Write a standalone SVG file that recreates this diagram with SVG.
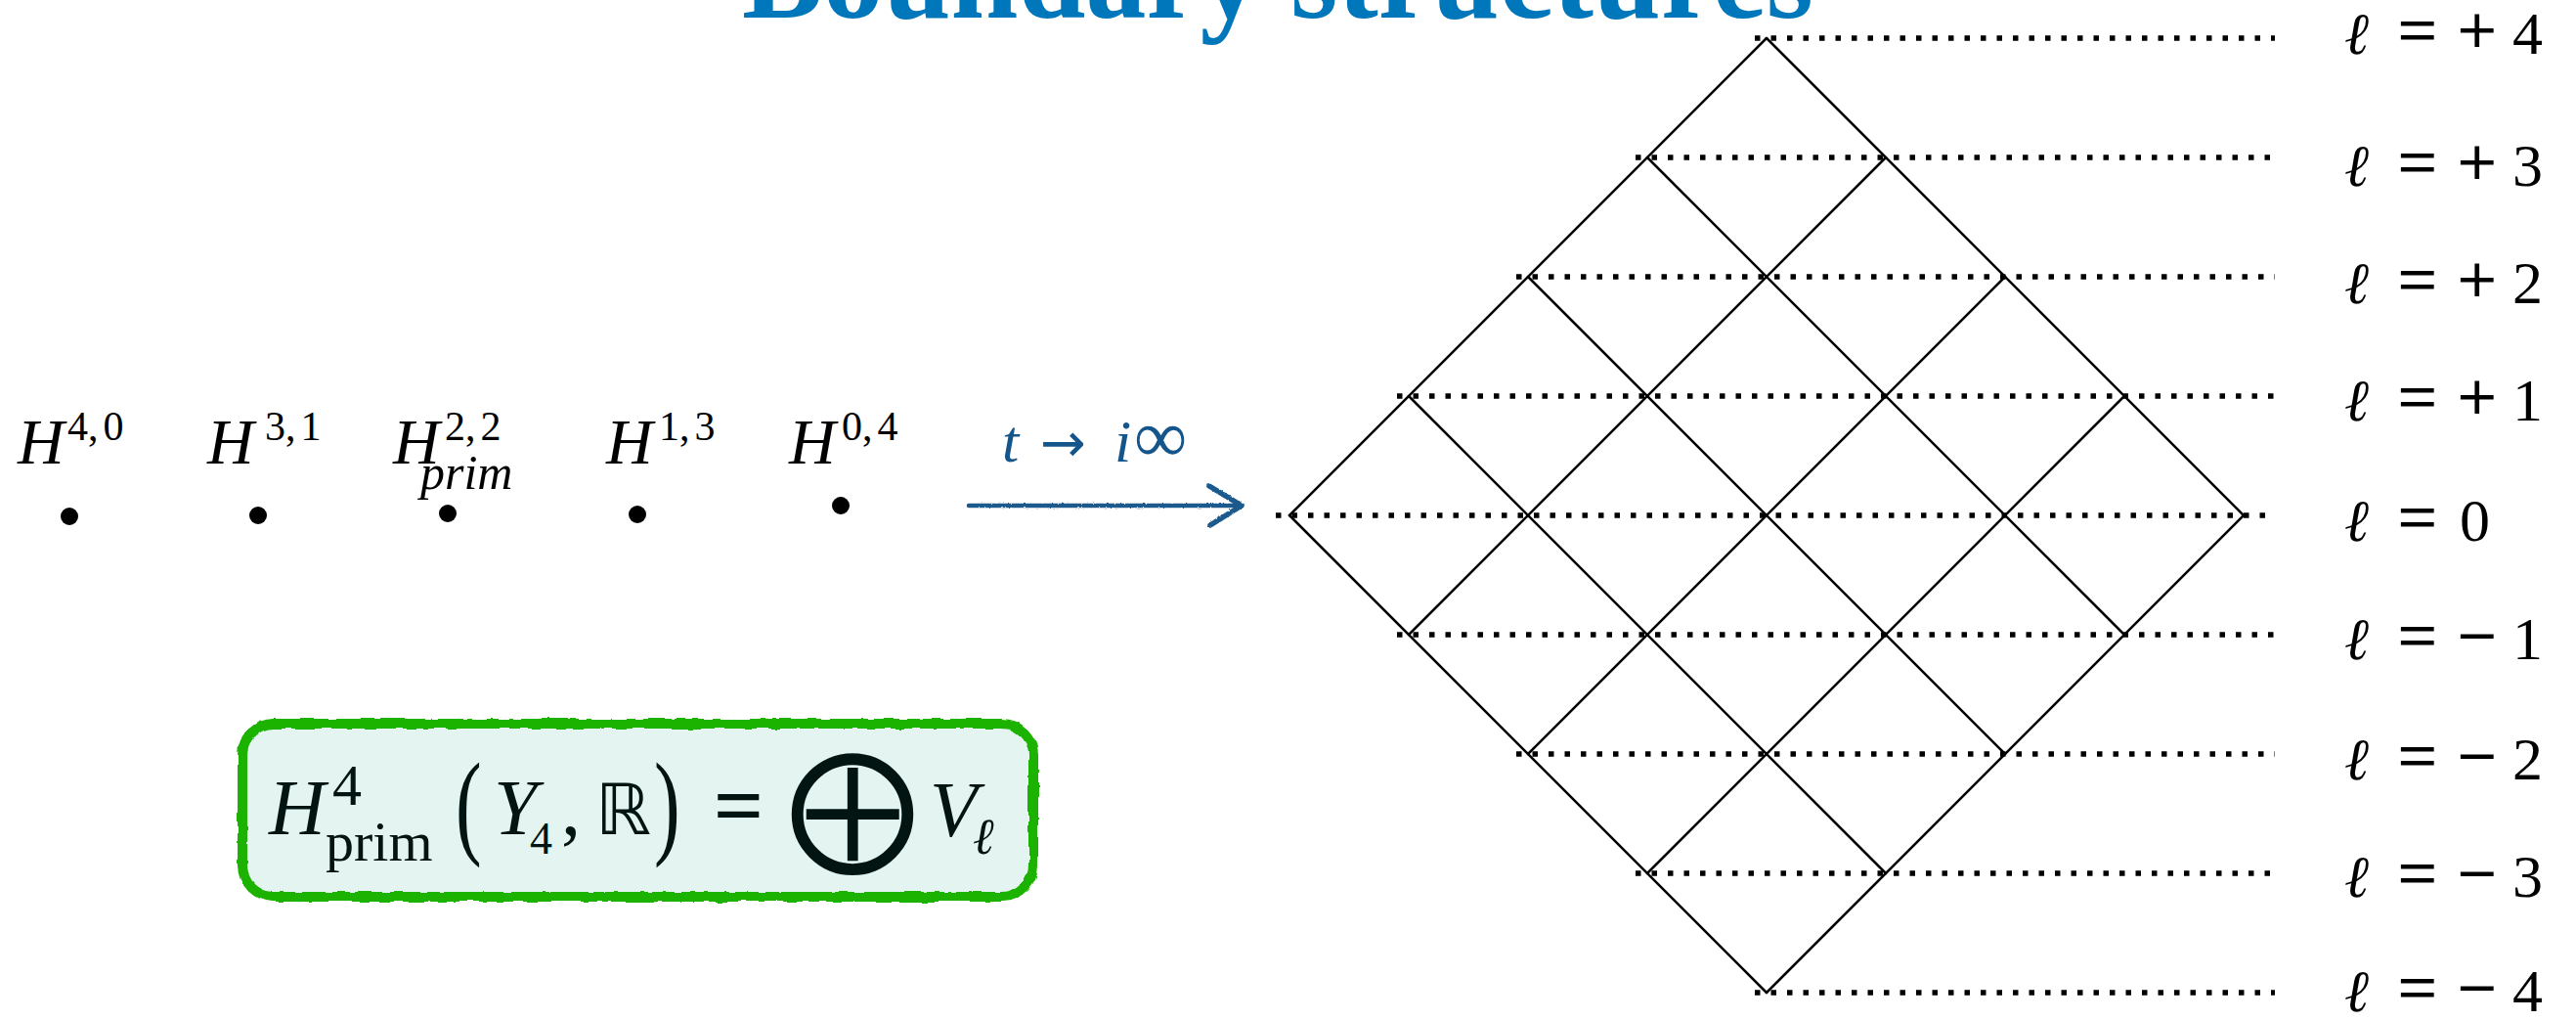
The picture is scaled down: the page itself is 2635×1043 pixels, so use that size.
<svg xmlns="http://www.w3.org/2000/svg" width="2635" height="1043" viewBox="0 0 2635 1043">
<style>
.serif{font-family:"Liberation Serif","Times New Roman",serif;}
.it{font-style:italic;}
.hl{font-size:66px;fill:#000;}
.sup{font-size:42px;fill:#000;font-style:normal;}
.lab{font-family:"Liberation Serif","DejaVu Serif",serif;font-size:62px;fill:#000;}
.ell{font-family:"DejaVu Serif",serif;font-style:italic;font-size:60px;}
.op{font-size:70px;stroke:#000;stroke-width:1.2;}
.grid{stroke:#000;stroke-width:2.5;fill:none;stroke-linecap:round;}
.dots{stroke:#000;stroke-width:5.5;stroke-dasharray:5.5 11;fill:none;}
.fm{fill:#031512;}
</style>
<defs>
<filter id="rough" x="-5%" y="-20%" width="110%" height="140%">
<feTurbulence type="fractalNoise" baseFrequency="0.07" numOctaves="2" seed="4" result="n"/>
<feDisplacementMap in="SourceGraphic" in2="n" scale="5" xChannelSelector="R" yChannelSelector="G"/>
</filter>
<filter id="rough2" x="-5%" y="-50%" width="110%" height="200%">
<feTurbulence type="fractalNoise" baseFrequency="0.5" numOctaves="1" seed="2" result="n"/>
<feDisplacementMap in="SourceGraphic" in2="n" scale="2.5" xChannelSelector="R" yChannelSelector="G"/>
</filter>
</defs>
<rect width="2635" height="1043" fill="#fff"/>

<g id="title">
<text class="serif" x="759" y="18" font-size="130" font-weight="bold" fill="#0077bb" textLength="1096" lengthAdjust="spacingAndGlyphs">Boundary structures</text>
</g>

<g id="h40">
<text class="serif it hl" x="18" y="474">H</text>
<text class="serif sup" x="69" y="450">4,<tspan dx="5">0</tspan></text>
<circle cx="71" cy="528" r="9" fill="#000"/>
</g>
<g id="h31">
<text class="serif it hl" x="212" y="474">H</text>
<text class="serif sup" x="271" y="450">3,<tspan dx="5">1</tspan></text>
<circle cx="264" cy="527" r="9" fill="#000"/>
</g>
<g id="h22">
<text class="serif it hl" x="402" y="474">H</text>
<text class="serif sup" x="455" y="450">2,<tspan dx="5">2</tspan></text>
<text class="serif it" x="430" y="500" font-size="50">prim</text>
<circle cx="458" cy="525" r="9" fill="#000"/>
</g>
<g id="h13">
<text class="serif it hl" x="620" y="474">H</text>
<text class="serif sup" x="674" y="450">1,<tspan dx="5">3</tspan></text>
<circle cx="652" cy="526" r="9" fill="#000"/>
</g>
<g id="h04">
<text class="serif it hl" x="807" y="474">H</text>
<text class="serif sup" x="861" y="450">0,<tspan dx="5">4</tspan></text>
<circle cx="860" cy="517" r="9" fill="#000"/>
</g>

<g id="connectors">
<g id="arrow" filter="url(#rough2)" stroke="#1b5a8e" fill="none" stroke-linecap="round" stroke-linejoin="round">
<path d="M991,517 L1266,517" stroke-width="4.5"/>
<path d="M1237,497 L1270,517 L1238,537" stroke-width="5.5"/>
</g>
<text class="serif" y="472" font-size="62" fill="#14558c"><tspan x="1025" font-style="italic">t</tspan><tspan x="1064" font-family="DejaVu Sans, sans-serif" font-size="56">→</tspan><tspan x="1140" font-style="italic">i</tspan><tspan x="1160" font-size="76">∞</tspan></text>
</g>

<g id="formula">
<rect x="248" y="740" width="809" height="177" rx="32" ry="32" fill="#e4f5f1" stroke="#1fb200" stroke-width="10" filter="url(#rough)"/>
<text class="serif it fm" x="275" y="853" font-size="80">H</text>
<text class="serif fm" x="340" y="823" font-size="60">4</text>
<text class="serif fm" x="333" y="880" font-size="58">prim</text>
<text class="serif fm" font-size="80" transform="translate(466,862) scale(1,1.48)">(</text>
<text class="serif it fm" x="505" y="853" font-size="80">Y</text>
<text class="serif fm" x="542" y="873" font-size="46">4</text>
<text class="serif fm" x="574" y="853" font-size="80">,</text>
<text class="fm" x="609" y="853" font-size="72" font-family="DejaVu Sans, sans-serif">ℝ</text>
<text class="serif fm" font-size="80" transform="translate(669,862) scale(1,1.48)">)</text>
<text class="serif fm" x="731" y="853" font-size="86" stroke="#031512" stroke-width="2">=</text>
<text class="fm" x="872" y="869" font-size="132" text-anchor="middle" font-family="DejaVu Sans, sans-serif">⨁</text>
<text class="serif it fm" x="951" y="855" font-size="80">V</text>
<text class="fm" x="995" y="873" font-size="52" font-family="DejaVu Serif, serif" font-style="italic">ℓ</text>
</g>

<g id="diamond">
<g class="grid">
<line x1="1807" y1="39" x2="2295" y2="527"/>
<line x1="1685" y1="161" x2="2173" y2="649"/>
<line x1="1563" y1="283" x2="2051" y2="771"/>
<line x1="1441" y1="405" x2="1929" y2="893"/>
<line x1="1319" y1="527" x2="1807" y2="1015"/>
<line x1="1807" y1="39" x2="1319" y2="527"/>
<line x1="1929" y1="161" x2="1441" y2="649"/>
<line x1="2051" y1="283" x2="1563" y2="771"/>
<line x1="2173" y1="405" x2="1685" y2="893"/>
<line x1="2295" y1="527" x2="1807" y2="1015"/>
</g>
<g class="dots">
<line x1="1795" y1="39" x2="2327" y2="39"/>
<line x1="1673" y1="161" x2="2327" y2="161"/>
<line x1="1551" y1="283" x2="2327" y2="283"/>
<line x1="1429" y1="405" x2="2327" y2="405"/>
<line x1="1305" y1="527" x2="2327" y2="527"/>
<line x1="1429" y1="649" x2="2327" y2="649"/>
<line x1="1551" y1="771" x2="2327" y2="771"/>
<line x1="1673" y1="893" x2="2327" y2="893"/>
<line x1="1795" y1="1015" x2="2327" y2="1015"/>
</g>
</g>

<g id="labels" class="lab">
<text y="55"><tspan class="ell" x="2398">ℓ</tspan><tspan class="op" x="2453">=</tspan><tspan class="op" x="2514">+</tspan><tspan x="2570">4</tspan></text>
<text y="190"><tspan class="ell" x="2398">ℓ</tspan><tspan class="op" x="2453">=</tspan><tspan class="op" x="2514">+</tspan><tspan x="2570">3</tspan></text>
<text y="310"><tspan class="ell" x="2398">ℓ</tspan><tspan class="op" x="2453">=</tspan><tspan class="op" x="2514">+</tspan><tspan x="2570">2</tspan></text>
<text y="430"><tspan class="ell" x="2398">ℓ</tspan><tspan class="op" x="2453">=</tspan><tspan class="op" x="2514">+</tspan><tspan x="2570">1</tspan></text>
<text y="553"><tspan class="ell" x="2398">ℓ</tspan><tspan class="op" x="2453">=</tspan><tspan x="2516">0</tspan></text>
<text y="674"><tspan class="ell" x="2398">ℓ</tspan><tspan class="op" x="2453">=</tspan><tspan class="op" x="2514">−</tspan><tspan x="2570">1</tspan></text>
<text y="797"><tspan class="ell" x="2398">ℓ</tspan><tspan class="op" x="2453">=</tspan><tspan class="op" x="2514">−</tspan><tspan x="2570">2</tspan></text>
<text y="917"><tspan class="ell" x="2398">ℓ</tspan><tspan class="op" x="2453">=</tspan><tspan class="op" x="2514">−</tspan><tspan x="2570">3</tspan></text>
<text y="1034"><tspan class="ell" x="2398">ℓ</tspan><tspan class="op" x="2453">=</tspan><tspan class="op" x="2514">−</tspan><tspan x="2570">4</tspan></text>
</g>
</svg>
